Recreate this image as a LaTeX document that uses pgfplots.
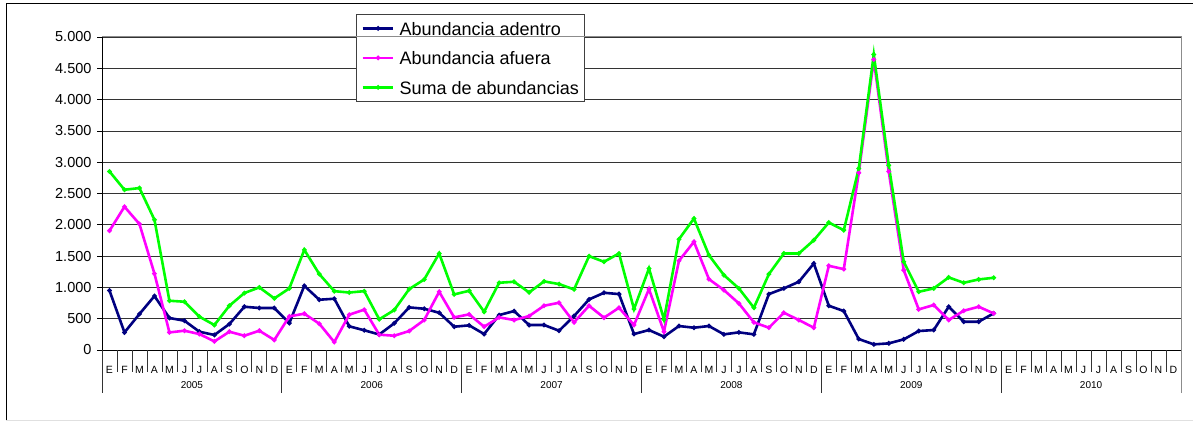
\documentclass[border=0pt]{standalone}
\usepackage{pgfplots}
\usepackage{pgfplotstable}
\pgfplotsset{compat=1.18}
\usepackage{fontspec}
\setmainfont{Liberation Sans}

\definecolor{adentro}{RGB}{0,0,128}
\definecolor{afuera}{RGB}{255,0,255}
\definecolor{suma}{RGB}{0,255,0}

% mes (0 = enero 2005), abundancia adentro, afuera, suma
\pgfplotstableread{
mes adentro afuera suma
0  950 1905 2852
1  281 2289 2560
2  575 2012 2587
3  862 1220 2081
4  511  281  787
5  468  308  771
6  292  255  532
7  240  137  399
8  415  292  707
9  691  228  910
10 671  308 1000
11 671  160  824
12 430  537  984
13 1025 580 1600
14 803  420 1213
15 819  127  940
16 378  564  918
17 315  644  940
18 248  245  490
19 426  228  638
20 681  303  973
21 659  479 1127
22 595  930 1542
23 372  521  888
24 394  569  946
25 255  372  611
26 558  521 1074
27 622  479 1090
28 399  542  920
29 399  707 1096
30 308  755 1053
31 542  442  968
32 808  707 1499
33 914  516 1409
34 893  675 1542
35 255  399  654
36 319  973 1303
37 213  292  489
38 383 1425 1770
39 356 1728 2100
40 383 1132 1515
41 250  957 1196
42 282  744  984
43 250  442  675
44 893  356 1212
45 984  595 1542
46 1090 479 1542
47 1382 356 1754
48 707 1345 2036
49 622 1292 1914
50 175 2830 2900
51  90 4640 4720
52 106 2850 2950
53 170 1276 1409
54 303  649  930
55 319  718  984
56 691  479 1160
57 452  627 1074
58 452  691 1127
59 585  585 1154
}\datos

\begin{document}
\begin{tikzpicture}
\useasboundingbox (0pt,0pt) rectangle (1193pt,421pt);
% marco exterior
\draw[black, line width=1pt] (1193pt,417.7pt) -- (6pt,417.7pt) -- (6pt,1pt);
\draw[black!12, line width=1pt] (6pt,0.5pt) -- (1193pt,0.5pt);

\begin{axis}[
    at={(102pt,71pt)}, anchor=south west,
    scale only axis,
    width=1079pt, height=313pt,
    xmin=-0.5, xmax=71.5,
    ymin=0, ymax=5000,
    ytick={0,500,...,5000},
    xtick={0,...,71},
    xticklabels={E,F,M,A,M,J,J,A,S,O,N,D,E,F,M,A,M,J,J,A,S,O,N,D,E,F,M,A,M,J,J,A,S,O,N,D,E,F,M,A,M,J,J,A,S,O,N,D,E,F,M,A,M,J,J,A,S,O,N,D,E,F,M,A,M,J,J,A,S,O,N,D},
    xtick style={draw=none},
    xticklabel style={font=\fontsize{10.5}{12}\selectfont, anchor=base, yshift=-18.7pt},
    ytick style={black, line width=0.8pt},
    major tick length=5pt,
    tick align=outside,
    yticklabel style={font=\fontsize{14.5}{16}\selectfont, xshift=-2pt},
    /pgf/number format/1000 sep={.},
    /pgf/number format/assume math mode=true,
    axis x line*=bottom, axis y line*=left,
    axis line style={black, line width=1pt},
    ymajorgrids,
    major grid style={black!80, line width=0.8pt},
    legend style={at={(0.2351,1.0731)}, anchor=north west,
        draw=black!75, line width=0.8pt, fill=white,
        inner xsep=5.3pt, inner ysep=4pt,
        nodes={inner sep=0pt, text height=16.9pt, text depth=2.8pt},
        row sep=9.8pt, column sep=5pt,
        font=\fontsize{18}{20}\selectfont, cells={anchor=west}},
    legend image code/.code={\draw[mark repeat=2, mark phase=2, #1] plot coordinates {(0pt,0pt) (15.35pt,0pt) (30.7pt,0pt)};},
    every axis plot/.append style={line width=2.6pt, mark=*, mark size=0.8pt},
]
\addplot[adentro, mark options={fill=adentro}] table[x=mes, y=adentro] {\datos};
\addplot[afuera, mark options={fill=afuera}] table[x=mes, y=afuera] {\datos};
\addplot[suma, mark options={fill=suma}] table[x=mes, y=suma] {\datos};
\legend{Abundancia adentro, Abundancia afuera, Suma de abundancias}
\end{axis}

% borde gris del area de trazado
\draw[black!45, line width=1pt] (102pt,384pt) -- (1181pt,384pt) -- (1181pt,28pt);
% separadores de meses y de años
\foreach \k in {0,...,71}
  \draw[black!80, line width=0.8pt] ({(102+\k*14.9861)*1pt},71pt) -- ++(0pt,-22.3pt);
\foreach \k in {0,12,...,60}
  \draw[black!80, line width=0.8pt] ({(102+\k*14.9861)*1pt},71pt) -- ++(0pt,-43pt);
\foreach \k/\y in {0/2005,1/2006,2/2007,3/2008,4/2009,5/2010}
  \node[font=\fontsize{10}{12}\selectfont, anchor=base] at ({(102+(12*\k+6)*14.9861)*1pt},32.7pt) {\y};
\end{tikzpicture}
\end{document}
